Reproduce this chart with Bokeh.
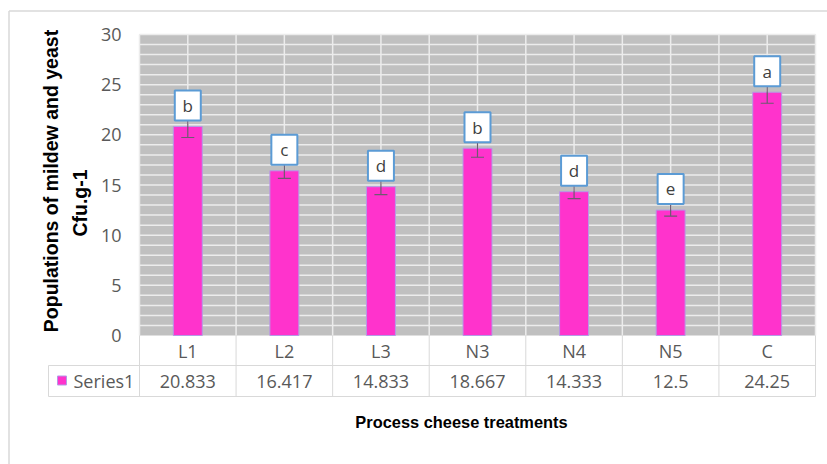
import numpy as np
from bokeh.plotting import figure
from bokeh.models import Range1d
from bokeh.core.properties import value
from bokeh.embed import file_html
from bokeh.resources import INLINE

# ---------------- data ----------------
categories = ["L1", "L2", "L3", "N3", "N4", "N5", "C"]
values = [20.833, 16.417, 14.833, 18.667, 14.333, 12.5, 24.25]
errors = [1.1, 0.75, 0.8, 0.9, 0.7, 0.6, 1.1]
letters = ["b", "c", "d", "b", "d", "e", "a"]
value_labels = ["20.833", "16.417", "14.833", "18.667", "14.333", "12.5", "24.25"]
series_name = "Series1"
y_ticks = [0, 5, 10, 15, 20, 25, 30]
y_tick_labels = ["0", "5", "10", "15", "20", "25", "30"]
y_max = 30
y_title_1 = "Populations of mildew and yeast"
y_title_2 = "Cfu.g-1"
x_title = "Process cheese treatments"

# ---------------- layout (page pixels) ----------------
W, H = 827, 464
PLOT_L, PLOT_R, PLOT_T, PLOT_B = 139, 815, 34, 335
n = len(categories)
xu = (PLOT_R - PLOT_L) / n
yu = (PLOT_B - PLOT_T) / y_max


def X(px):
    return (px - PLOT_L) / xu


def Y(py):
    return (PLOT_B - py) / yu


centers = np.arange(n) + 0.5
vals = np.array(values)
errs = np.array(errors)

p = figure(width=W, height=H, output_backend="svg", toolbar_location=None,
           x_range=Range1d(X(0), X(W)), y_range=Range1d(Y(H), Y(0)),
           min_border_left=0, min_border_right=0, min_border_top=0,
           min_border_bottom=0)
p.axis.visible = False
p.grid.visible = False
p.outline_line_color = None
p.background_fill_color = "white"
p.border_fill_color = "white"

# chart border (left and top edges visible)
p.segment(x0=[X(8.5), X(8.5)], x1=[X(8.5), X(W + 5)],
          y0=[Y(H + 5), Y(10.5)], y1=[Y(10.5), Y(10.5)],
          line_color="#d9d9d9", line_width=1.5)

# plot area
p.quad(left=[0], right=[n], bottom=[0], top=[y_max], fill_color="#c0c0c0",
       line_color=None)
hy = np.arange(1, y_max + 1)
p.segment(x0=np.zeros_like(hy), x1=np.full(len(hy), n), y0=hy, y1=hy,
          line_color="#ececec", line_width=1.5)
vx = np.arange(0, n + 0.01, 0.5)
p.segment(x0=vx, x1=vx, y0=np.zeros_like(vx), y1=np.full(len(vx), y_max),
          line_color="#ececec", line_width=1.5)

# bars
p.vbar(x=centers, top=vals, bottom=0, width=0.3, fill_color="#ff33cc",
       line_color="#b49be6", line_width=1)

# error bars
p.segment(x0=centers, x1=centers, y0=vals - errs, y1=vals + errs,
          line_color="#6e5a70", line_width=1.2)
p.scatter(x=np.concatenate([centers, centers]),
          y=np.concatenate([vals - errs, vals + errs]),
          marker="dash", size=13, line_color="#6e5a70", line_width=1.2)

# letter boxes
box_gap = 6 / yu
box_h = 30 / yu
p.rect(x=centers, y=vals + box_gap + box_h / 2, width=26, height=30,
       width_units="screen", height_units="screen", fill_color="white",
       line_color="#5b9bd5", line_width=2)
p.text(x=centers, y=vals + box_gap + box_h / 2, text=letters,
       text_align="center", text_baseline="middle",
       text_font=value("Open Sans"), text_font_size="17px", text_color="#404040")

# y tick labels
p.text(x=np.full(len(y_ticks), X(121)), y=y_ticks, text=y_tick_labels,
       text_align="right", text_baseline="middle",
       text_font=value("Open Sans"), text_font_size="18px", text_color="#595959")

# data table
tl = "#d9d9d9"
row1_bot, row2_bot = Y(365), Y(396)
tab_left = X(48)
p.segment(x0=[tab_left, tab_left], x1=[n, n], y0=[row1_bot, row2_bot],
          y1=[row1_bot, row2_bot], line_color=tl, line_width=1)
cx = np.arange(0, n + 1)
p.segment(x0=cx, x1=cx, y0=np.zeros(len(cx)), y1=np.full(len(cx), row2_bot),
          line_color=tl, line_width=1)
p.segment(x0=[tab_left], x1=[tab_left], y0=[row1_bot], y1=[row2_bot],
          line_color=tl, line_width=1)

p.text(x=centers, y=np.full(n, Y(350)), text=categories, text_align="center",
       text_baseline="middle", text_font=value("Open Sans"),
       text_font_size="18px", text_color="#595959")
p.text(x=centers, y=np.full(n, Y(380.5)), text=value_labels,
       text_align="center", text_baseline="middle",
       text_font=value("Open Sans"), text_font_size="18px", text_color="#595959")
p.scatter(x=[X(61.5)], y=[Y(380)], marker="square", size=9,
          fill_color="#ff33cc", line_color="#b49be6", line_width=1)
p.text(x=[X(73)], y=[Y(380.5)], text=[series_name], text_align="left",
       text_baseline="middle", text_font=value("Open Sans"),
       text_font_size="18px", text_color="#595959")

# axis titles
p.text(x=[X(50.5)], y=[Y(180.5)], text=[y_title_1], angle=np.pi / 2,
       text_align="center", text_baseline="middle",
       text_font=value("Liberation Sans"), text_font_style="bold",
       text_font_size="19.5px", text_color="black")
p.text(x=[X(79)], y=[Y(202.5)], text=[y_title_2], angle=np.pi / 2,
       text_align="center", text_baseline="middle",
       text_font=value("Liberation Sans"), text_font_style="bold",
       text_font_size="19.5px", text_color="black")
p.text(x=[X(461)], y=[Y(421)], text=[x_title], text_align="center",
       text_baseline="middle", text_font=value("Liberation Sans"),
       text_font_style="bold", text_font_size="16.4px", text_color="black")

open("out.html", "w").write(file_html(p, INLINE))
